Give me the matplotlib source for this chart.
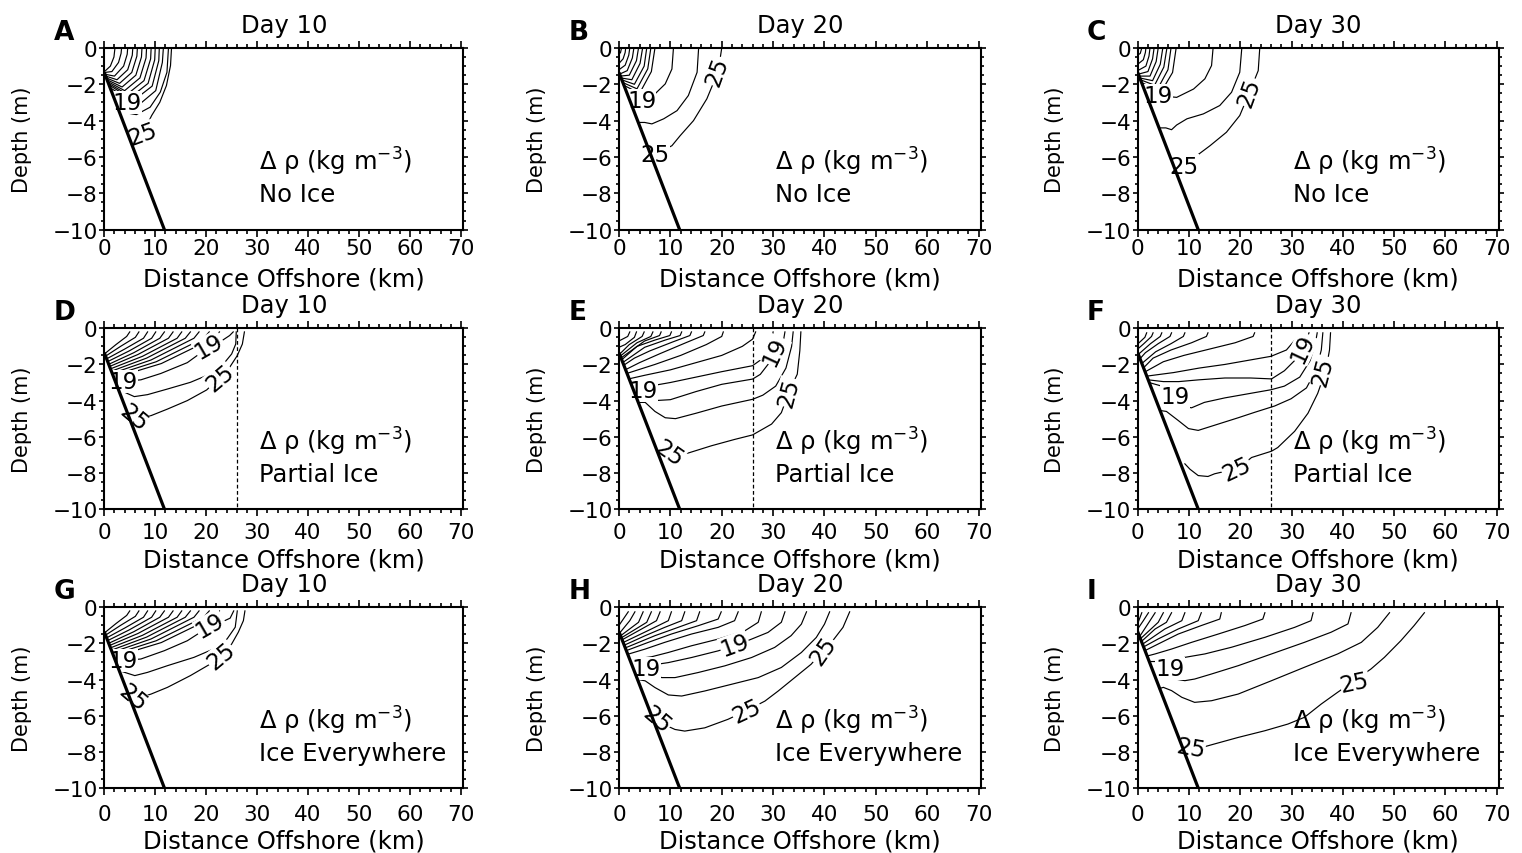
import matplotlib
matplotlib.use("Agg")
import matplotlib.pyplot as plt
from matplotlib.ticker import MultipleLocator

plt.rcParams.update({
    "font.family": "DejaVu Sans",
    "mathtext.fontset": "dejavusans",
    "xtick.labelsize": 15.5,
    "ytick.labelsize": 15.5,
})

days = ["Day 10", "Day 20", "Day 30"]
ice_cases = ["No Ice", "Partial Ice", "Ice Everywhere"]
letters = ["A", "B", "C", "D", "E", "F", "G", "H", "I"]

# sloping bottom (km, m) and ice edge for the partial-ice runs
bathy_km = [0.0, 11.8]
bathy_m = [-1.35, -10.0]
ice_edge_km = 26.0

# Δρ contours: each line is a list of (km offshore, depth m)
cont_a = [
    [(0.05, -1.3), (1.2, -1.0), (1.9, -0.5), (2.1, 0.0)],
    [(0.1, -1.35), (1.5, -1.3), (2.8, -0.8), (3.3, -0.3), (3.4, 0.0)],
    [(0.2, -1.45), (2.0, -1.55), (3.8, -1.0), (4.5, -0.35), (4.6, 0.0)],
    [(0.3, -1.55), (2.5, -1.75), (4.6, -1.2), (5.5, -0.4), (5.6, 0.0)],
    [(0.4, -1.65), (3.0, -1.95), (5.4, -1.35), (6.4, -0.45), (6.5, 0.0)],
    [(0.55, -1.75), (3.5, -2.15), (6.2, -1.5), (7.3, -0.5), (7.4, 0.0)],
    [(0.7, -1.85), (4.0, -2.35), (7.0, -1.65), (8.2, -0.55), (8.3, 0.0)],
    [(0.85, -1.95), (4.5, -2.55), (7.8, -1.8), (9.1, -0.6), (9.2, 0.0)],
    [(1.0, -2.05), (5.0, -2.75), (8.6, -1.95), (9.9, -0.65), (10.0, 0.0)],
    [(1.2, -2.2), (5.5, -2.95), (9.4, -2.1), (10.7, -0.7), (10.8, 0.0)],
    [(1.6, -2.5), (4.4, -3.0), (6.5, -3.2), (10.1, -2.35), (11.4, -0.8), (11.6, 0.0)],
    [(2.6, -3.21), (3.7, -3.54), (6.3, -3.67), (9.0, -3.26), (11.0, -2.43), (12.3, -1.34), (12.6, 0.0)],
    [(5.5, -5.4), (7.5, -4.73), (9.3, -3.72), (10.9, -2.99), (12.2, -2.07), (13.0, -0.97), (13.2, 0.0)],
]
labels_a = [("19", 4.4, -3.0, 0), ("25", 7.5, -4.75, 20)]

cont_b = [
    [(0.0, -0.35), (0.3, -0.25), (0.5, 0.0)],
    [(0.0, -0.85), (0.8, -0.6), (1.2, -0.25), (1.3, 0.0)],
    [(0.0, -1.2), (1.2, -0.95), (1.9, -0.4), (2.1, 0.0)],
    [(0.05, -1.45), (1.6, -1.25), (2.6, -0.55), (2.9, 0.0)],
    [(0.2, -1.55), (2.0, -1.5), (3.4, -0.7), (3.8, 0.0)],
    [(0.35, -1.65), (2.5, -1.75), (4.1, -0.85), (4.6, 0.0)],
    [(0.5, -1.75), (3.0, -2.0), (4.9, -1.0), (5.4, 0.0)],
    [(0.7, -1.9), (3.5, -2.25), (5.6, -1.15), (6.2, 0.0)],
    [(0.9, -2.05), (4.0, -2.5), (6.3, -1.3), (7.0, 0.0)],
    [(2.0, -2.9), (4.7, -2.95), (7.0, -2.53), (9.0, -1.98), (10.3, -1.16), (10.6, 0.0)],
    [(3.8, -4.1), (5.0, -4.1), (6.4, -4.18), (8.7, -3.9), (11.3, -3.45), (13.5, -2.62), (15.2, -1.34), (15.5, 0.0)],
    [(6.1, -5.9), (7.0, -5.87), (10.3, -5.38), (11.9, -4.83), (14.5, -4.0), (17.1, -2.8), (19.3, -1.3), (20.0, 0.0)],
]
labels_b = [("19", 4.4, -2.92, 0), ("25", 19.2, -1.3, 70), ("25", 7.0, -5.87, 0)]

cont_c = [
    [(0.0, -0.4), (0.5, -0.3), (0.8, 0.0)],
    [(0.0, -0.9), (1.1, -0.65), (1.5, -0.25), (1.6, 0.0)],
    [(0.0, -1.25), (1.6, -1.0), (2.2, -0.45), (2.4, 0.0)],
    [(0.05, -1.45), (2.0, -1.3), (2.9, -0.6), (3.2, 0.0)],
    [(0.2, -1.55), (2.4, -1.55), (3.6, -0.75), (4.0, 0.0)],
    [(0.35, -1.65), (2.9, -1.8), (4.4, -0.9), (4.9, 0.0)],
    [(0.5, -1.75), (3.3, -2.05), (5.1, -1.05), (5.7, 0.0)],
    [(0.7, -1.9), (3.8, -2.3), (5.9, -1.2), (6.5, 0.0)],
    [(0.9, -2.05), (4.3, -2.55), (6.8, -1.35), (7.5, 0.0)],
    [(1.65, -2.6), (4.0, -2.62), (7.6, -2.72), (10.9, -2.26), (13.1, -1.7), (14.4, -0.97), (14.7, 0.0)],
    [(4.2, -4.4), (5.5, -4.4), (6.6, -4.5), (7.6, -4.24), (9.6, -3.9), (12.8, -3.63), (16.0, -3.17),
     (18.3, -2.44), (19.9, -1.34), (20.3, 0.0)],
    [(7.1, -6.6), (9.0, -6.48), (11.5, -5.93), (14.1, -5.38), (17.3, -4.64), (19.9, -3.72), (21.8, -2.44),
     (23.5, -1.25), (23.8, 0.0)],
]
labels_c = [("19", 4.0, -2.64, 0), ("25", 21.8, -2.44, 70), ("25", 9.0, -6.5, 0)]

# the shoreward fan is the same in panels D and G
fan_dg = [
    [(0.03, -1.42), (2.3, -0.9), (4.4, -0.45), (5.0, -0.2)],
    [(0.21, -1.55), (3.2, -1.0), (6.1, -0.5), (6.8, -0.2)],
    [(0.41, -1.7), (4.0, -1.15), (7.7, -0.55), (8.5, -0.2)],
    [(0.62, -1.85), (4.9, -1.25), (9.3, -0.55), (10.1, -0.2)],
    [(0.82, -2.0), (5.8, -1.35), (10.9, -0.55), (11.8, -0.2)],
    [(0.99, -2.12), (6.6, -1.45), (12.6, -0.55), (13.5, -0.2)],
    [(1.17, -2.25), (7.5, -1.55), (14.3, -0.55), (15.2, -0.2)],
    [(1.34, -2.38), (8.3, -1.65), (15.9, -0.55), (16.9, -0.2)],
    [(1.51, -2.5), (9.2, -1.75), (17.6, -0.55), (18.6, -0.2)],
    [(1.67, -2.62), (10.2, -1.85), (19.5, -0.55), (20.6, -0.2)],
    [(1.85, -2.75), (11.2, -1.95), (21.4, -0.55), (22.6, -0.2)],
]

cont_d = fan_dg + [
    [(2.1, -2.95), (3.7, -2.95), (7.2, -2.85), (11.1, -2.5), (16.3, -1.9), (18.5, -1.45), (20.8, -1.0),
     (23.0, -0.7), (24.6, -0.4), (25.3, -0.2)],
    [(2.9, -3.5), (4.0, -3.54), (5.9, -3.78), (8.5, -3.67), (12.4, -3.36), (16.9, -2.99), (20.8, -2.53),
     (23.4, -1.97), (25.0, -1.42), (25.8, -0.87), (25.9, -0.2)],
    [(4.9, -5.0), (5.6, -4.93), (7.5, -4.96), (9.2, -4.83), (12.4, -4.47), (16.3, -4.0), (20.1, -3.41),
     (22.7, -2.71), (24.6, -2.16), (26.1, -1.51), (27.1, -0.87), (27.5, -0.2)],
]
labels_d = [("19", 3.7, -2.95, 0), ("19", 20.6, -1.0, 30), ("25", 22.7, -2.75, 40), ("25", 5.7, -4.95, -40)]

cont_e = [
    [(0.0, -0.7), (1.7, -0.45), (2.1, -0.2)],
    [(0.0, -1.05), (1.2, -0.9), (3.0, -0.5), (3.4, -0.2)],
    [(0.05, -1.45), (2.0, -0.9), (4.5, -0.45), (4.9, -0.2)],
    [(0.2, -1.55), (3.5, -0.8), (6.2, -0.45), (6.6, -0.2)],
    [(0.35, -1.65), (5.0, -0.7), (7.9, -0.4), (8.2, -0.2)],
    [(0.5, -1.75), (3.5, -1.0), (7.0, -0.65), (9.9, -0.4), (10.2, -0.2)],
    [(0.7, -1.9), (5.0, -1.05), (9.0, -0.65), (11.9, -0.4), (12.2, -0.2)],
    [(0.9, -2.05), (3.0, -1.65), (6.0, -1.25), (10.5, -0.75), (13.8, -0.4), (14.1, -0.2)],
    [(1.2, -2.3), (4.0, -1.9), (8.0, -1.4), (13.0, -0.8), (16.4, -0.4), (16.7, -0.2)],
    [(1.5, -2.5), (7.0, -2.0), (12.0, -1.5), (17.0, -0.9), (20.0, -0.45), (20.3, -0.2)],
    [(1.9, -2.8), (5.0, -2.6), (10.0, -2.3), (15.0, -1.9), (20.0, -1.5), (24.0, -1.0), (26.0, -0.6), (26.6, -0.2)],
    [(2.4, -3.15), (6.0, -3.2), (10.0, -3.0), (15.0, -2.7), (20.0, -2.4), (26.0, -2.07), (28.3, -1.6),
     (29.6, -0.8), (30.0, -0.2)],
    [(2.8, -3.45), (4.8, -3.5), (7.0, -4.0), (10.0, -3.95), (15.0, -3.5), (20.0, -3.1), (26.0, -2.81),
     (27.5, -2.55), (29.0, -2.0), (30.6, -1.3), (32.0, -0.7), (32.3, -0.2)],
    [(3.7, -4.1), (5.1, -4.1), (7.0, -4.6), (9.0, -4.95), (11.0, -5.0), (15.0, -4.7), (20.0, -4.3),
     (26.0, -3.93), (28.0, -3.7), (30.5, -3.2), (32.5, -2.2), (33.6, -1.0), (33.9, -0.2)],
    [(7.5, -6.85), (9.8, -6.9), (11.5, -7.0), (13.5, -6.9), (18.0, -6.5), (22.5, -6.15), (26.0, -5.9),
     (29.7, -5.3), (31.6, -4.67), (32.6, -3.9), (33.6, -3.2), (34.7, -2.54), (35.2, -1.24), (35.4, -0.2)],
]
labels_e = [("19", 4.7, -3.45, 0), ("19", 30.4, -1.25, 65), ("25", 33.0, -3.55, 75), ("25", 9.8, -6.9, -35)]

cont_f = [
    [(0.0, -0.87), (1.4, -0.5), (1.75, -0.25)],
    [(0.0, -1.15), (1.2, -0.85), (2.7, -0.45), (3.0, -0.25)],
    [(0.1, -1.45), (2.5, -0.85), (4.4, -0.45), (4.7, -0.25)],
    [(0.4, -1.7), (1.5, -1.35), (4.0, -0.85), (6.3, -0.45), (6.6, -0.25)],
    [(0.8, -1.95), (3.5, -1.3), (6.5, -0.85), (8.9, -0.45), (9.2, -0.25)],
    [(1.1, -2.2), (3.0, -1.65), (6.5, -1.2), (10.5, -0.8), (13.4, -0.45), (13.7, -0.25)],
    [(1.5, -2.4), (5.0, -1.85), (9.0, -1.5), (14.0, -1.15), (19.0, -0.8), (22.5, -0.45), (22.8, -0.25)],
    [(1.7, -2.65), (3.0, -2.6), (7.0, -2.45), (12.0, -2.2), (17.0, -2.0), (22.0, -1.75), (26.0, -1.55),
     (29.0, -1.2), (30.8, -0.6), (31.5, -0.25)],
    [(2.0, -2.85), (5.0, -2.95), (8.0, -2.95), (12.0, -2.85), (17.0, -2.75), (22.0, -2.75), (26.1, -2.8),
     (28.6, -2.35), (30.9, -1.7), (32.1, -1.05), (32.8, -0.7), (33.4, -0.25)],
    [(2.2, -3.0), (4.7, -3.2), (7.0, -3.85), (8.6, -4.3), (10.5, -4.4), (13.0, -4.1), (17.0, -3.85),
     (22.0, -3.6), (26.0, -3.4), (28.6, -3.2), (31.6, -2.7), (33.6, -1.8), (34.6, -0.9), (35.0, -0.25)],
    [(4.4, -4.55), (5.6, -4.6), (7.9, -5.1), (9.9, -5.55), (11.8, -5.65), (15.7, -5.3), (19.6, -4.95),
     (22.8, -4.65), (26.7, -4.3), (29.9, -3.9), (32.9, -3.3), (34.8, -2.3), (35.8, -1.2), (36.1, -0.25)],
    [(9.2, -7.5), (10.2, -7.8), (11.8, -8.15), (13.7, -8.2), (15.0, -8.05), (19.6, -7.75), (22.2, -7.15),
     (26.1, -6.8), (27.3, -6.6), (30.6, -5.7), (33.2, -4.7), (35.1, -3.6), (36.7, -2.3), (37.4, -1.2),
     (37.6, -0.25)],
]
labels_f = [("19", 7.3, -3.8, 0), ("19", 32.2, -1.1, 65), ("25", 36.2, -2.35, 75), ("25", 19.3, -7.8, 25)]

cont_g = fan_dg + [
    [(2.1, -2.95), (3.7, -2.95), (7.2, -2.86), (11.8, -2.4), (16.3, -1.85), (18.5, -1.45), (20.8, -1.0),
     (22.8, -0.85), (24.7, -0.6), (25.4, -0.2)],
    [(2.9, -3.5), (4.0, -3.6), (6.0, -3.78), (8.5, -3.6), (12.4, -3.23), (17.6, -2.77), (21.5, -2.3),
     (24.1, -1.75), (25.7, -1.1), (26.1, -0.2)],
    [(4.9, -5.0), (5.6, -5.0), (7.2, -4.98), (9.2, -4.8), (12.4, -4.43), (16.9, -3.78), (20.8, -3.14),
     (22.9, -2.68), (25.0, -2.03), (26.3, -1.38), (27.3, -0.74), (27.6, -0.2)],
]
labels_g = [("19", 3.7, -2.95, 0), ("19", 20.8, -1.0, 30), ("25", 22.9, -2.7, 40), ("25", 5.6, -5.0, -40)]

cont_h = [
    [(0.0, -1.0), (1.8, -0.25)],
    [(0.05, -1.45), (2.1, -0.74), (3.1, -0.25)],
    [(0.2, -1.6), (3.8, -0.83), (4.7, -0.25)],
    [(0.4, -1.7), (5.4, -0.83), (6.3, -0.25)],
    [(0.6, -1.8), (4.4, -1.2), (7.3, -0.74), (8.0, -0.25)],
    [(0.8, -1.95), (6.3, -1.2), (9.6, -0.74), (10.2, -0.25)],
    [(1.0, -2.1), (5.1, -1.57), (8.9, -1.11), (12.2, -0.74), (12.8, -0.25)],
    [(1.2, -2.25), (7.0, -1.57), (11.5, -1.11), (15.1, -0.74), (15.7, -0.25)],
    [(1.4, -2.4), (5.7, -1.94), (10.2, -1.48), (15.4, -1.02), (19.3, -0.65), (19.9, -0.25)],
    [(1.7, -2.6), (5.1, -2.31), (8.9, -1.94), (14.1, -1.48), (19.3, -1.11), (22.5, -0.74), (23.2, -0.25)],
    [(2.1, -2.9), (6.3, -2.74), (9.6, -2.5), (14.1, -2.13), (19.3, -1.76), (24.5, -1.3), (27.1, -0.83),
     (27.7, -0.25)],
    [(2.4, -3.15), (6.3, -3.2), (9.6, -3.06), (14.1, -2.78), (19.3, -2.41), (22.5, -2.13), (25.8, -1.76),
     (29.0, -1.39), (31.6, -0.83), (32.3, -0.25)],
    [(3.2, -3.7), (6.0, -3.6), (8.3, -3.89), (10.9, -3.89), (15.4, -3.61), (20.6, -3.24), (25.8, -2.78),
     (30.3, -2.22), (33.5, -1.57), (35.5, -0.93), (36.5, -0.25)],
    [(3.8, -4.0), (5.1, -4.07), (7.0, -4.44), (9.6, -4.85), (12.2, -4.91), (16.7, -4.63), (21.9, -4.26),
     (27.1, -3.89), (31.6, -3.33), (35.5, -2.5), (38.4, -1.67), (40.0, -0.93), (41.0, -0.25)],
    [(6.5, -6.15), (8.5, -6.45), (10.9, -6.76), (12.8, -6.85), (16.7, -6.67), (21.2, -6.2), (24.8, -5.72),
     (28.4, -5.19), (31.0, -4.63), (34.2, -3.89), (37.4, -3.15), (39.7, -2.4), (41.6, -1.85), (43.6, -1.11),
     (44.9, -0.25)],
]
labels_h = [("19", 5.3, -3.4, 0), ("19", 22.5, -2.1, 20), ("25", 39.7, -2.4, 55), ("25", 24.8, -5.72, 25),
            ("25", 7.4, -6.2, -40)]

cont_i = [
    [(0.0, -0.9), (0.8, -0.3)],
    [(0.0, -1.2), (1.1, -0.74), (2.1, -0.3)],
    [(0.3, -1.65), (2.4, -0.74), (3.4, -0.3)],
    [(0.5, -1.75), (4.0, -0.83), (5.0, -0.3)],
    [(0.7, -1.9), (3.4, -1.2), (5.6, -0.83), (6.6, -0.3)],
    [(0.9, -2.05), (5.3, -1.2), (8.6, -0.74), (9.2, -0.3)],
    [(1.1, -2.2), (4.0, -1.75), (7.9, -1.2), (11.8, -0.74), (12.4, -0.3)],
    [(1.4, -2.4), (4.0, -2.03), (7.9, -1.48), (12.4, -1.01), (16.0, -0.65), (16.3, -0.3)],
    [(1.8, -2.7), (3.4, -2.58), (6.6, -2.31), (10.5, -1.94), (15.7, -1.48), (20.9, -1.01), (24.4, -0.65),
     (24.8, -0.3)],
    [(2.2, -3.0), (6.0, -3.0), (9.2, -2.77), (13.1, -2.58), (18.3, -2.21), (24.8, -1.66), (30.6, -1.11),
     (33.8, -0.74), (34.2, -0.3)],
    [(3.4, -3.9), (5.0, -3.85), (7.3, -3.97), (9.2, -4.06), (11.1, -3.97), (14.4, -3.69), (19.6, -3.23),
     (26.1, -2.58), (32.5, -1.94), (37.7, -1.38), (41.0, -0.92), (41.6, -0.3)],
    [(4.2, -4.5), (5.0, -4.43), (6.6, -4.61), (8.6, -4.98), (11.1, -5.26), (14.4, -5.17), (19.6, -4.8),
     (26.1, -4.06), (32.5, -3.32), (39.0, -2.58), (43.6, -1.94), (46.8, -1.11), (49.1, -0.3)],
    [(8.6, -7.7), (10.2, -7.75), (13.1, -7.71), (15.0, -7.56), (19.6, -7.2), (24.8, -6.83), (29.3, -6.46),
     (32.5, -6.09), (35.8, -5.35), (39.0, -4.7), (42.3, -4.05), (45.5, -3.41), (48.1, -2.77), (51.3, -1.85),
     (53.9, -1.01), (55.9, -0.3)],
]
labels_i = [("19", 6.3, -3.4, 0), ("25", 42.3, -4.15, 12), ("25", 10.3, -7.8, -10)]

contours = [cont_a, cont_b, cont_c, cont_d, cont_e, cont_f, cont_g, cont_h, cont_i]
contour_labels = [labels_a, labels_b, labels_c, labels_d, labels_e, labels_f, labels_g, labels_h, labels_i]

# --- layout (figure fractions) ---
fig = plt.figure(figsize=(15.22, 8.54), dpi=100)
col_left = [0.0685, 0.4067, 0.7475]
col_width = [0.2359, 0.2378, 0.2374]
row_bottom = [0.7299, 0.4028, 0.0761]
row_height = [0.2128, 0.2116, 0.2116]
xtick_pad = [0.8, 4.2, 6.3]
xlabel_y = [-0.205, -0.215, -0.222]

for k in range(9):
    row, col = divmod(k, 3)
    ax = fig.add_axes([col_left[col], row_bottom[row], col_width[col], row_height[row]])

    for line in contours[k]:
        xs = [p[0] for p in line]
        zs = [p[1] for p in line]
        ax.plot(xs, zs, color="black", lw=0.85, zorder=2)

    for txt, x, z, rot in contour_labels[k]:
        ax.text(x, z, txt, fontsize=16.5, rotation=rot, rotation_mode="anchor",
                ha="center", va="center", zorder=3,
                bbox=dict(fc="white", ec="none", pad=0.2))

    ax.plot(bathy_km, bathy_m, color="black", lw=2.3, zorder=4, solid_capstyle="butt")
    if row == 1:
        ax.plot([ice_edge_km, ice_edge_km], [0, -10], color="black", lw=0.9,
                ls=(0, (3, 2)), zorder=2)

    ax.text(30.3, -6.72, r"Δ ρ (kg m$^{-3}$)", fontsize=17.5, va="baseline", zorder=5)
    ax.text(30.3, -8.45, ice_cases[row], fontsize=17.5, va="baseline", zorder=5)

    ax.set_xlim(0, 70.45)
    ax.set_ylim(-10, 0)
    ax.xaxis.set_major_locator(MultipleLocator(10))
    ax.xaxis.set_minor_locator(MultipleLocator(2))
    ax.yaxis.set_major_locator(MultipleLocator(2))
    ax.yaxis.set_minor_locator(MultipleLocator(0.5))
    ax.tick_params(which="both", direction="out", top=True, right=True, width=1.2)
    ax.tick_params(axis="x", which="major", length=5.2, pad=xtick_pad[row])
    ax.tick_params(axis="x", which="minor", length=3)
    ax.tick_params(axis="y", which="major", length=3.5, pad=1.2)
    ax.tick_params(axis="y", which="minor", length=2.5)
    for sp in ax.spines.values():
        sp.set_linewidth(1.5)

    ax.set_xlabel("Distance Offshore (km)", fontsize=17.5)
    ax.xaxis.set_label_coords(0.5, xlabel_y[row])
    ax.set_ylabel("Depth (m)", fontsize=15)
    ax.yaxis.set_label_coords(-0.2, 0.5)

    ax.text(0.5, 1.09, days[col], transform=ax.transAxes, ha="center", va="baseline", fontsize=17.5)
    ax.text(-0.14, 1.05, letters[k], transform=ax.transAxes, ha="left", va="baseline",
            fontsize=19, fontweight="bold")

fig.savefig("out.png", dpi=100)
